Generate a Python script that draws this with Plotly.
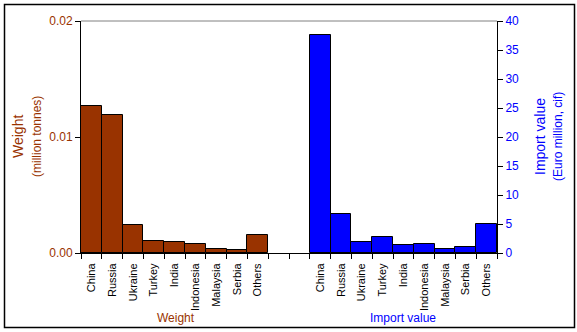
import plotly.graph_objects as go

countries = ["China", "Russia", "Ukraine", "Turkey", "India", "Indonesia", "Malaysia", "Serbia", "Others"]
weight = [0.01267, 0.01187, 0.00239, 0.00103, 0.00092, 0.00075, 0.00034, 0.00023, 0.00155]
import_value = [37.6, 6.67, 1.84, 2.76, 1.38, 1.5, 0.69, 1.03, 5.0]

BROWN = "#993300"
BLUE = "#0000FF"
FONT = "Liberation Sans, Arial, sans-serif"

W, H = 577, 332
L, R, T, B = 81, 497, 21, 253

n = len(countries)
gap = 2
x_w = list(range(n))
x_v = [i + n + gap for i in range(n)]
total = 2 * n + gap

def px(x):
    return (x - L) / (R - L)

def py(y):
    return (B - y) / (B - T)

fig = go.Figure()
fig.add_trace(go.Bar(x=x_w, y=weight, width=1, marker=dict(color=BROWN, line=dict(color="black", width=1)),
                     yaxis="y", xaxis="x", showlegend=False))
fig.add_trace(go.Bar(x=x_v, y=import_value, width=1, marker=dict(color=BLUE, line=dict(color="black", width=1)),
                     yaxis="y2", xaxis="x", showlegend=False))

fig.update_layout(
    width=W, height=H,
    margin=dict(l=L, r=W - R, t=T, b=H - B),
    paper_bgcolor="white", plot_bgcolor="white",
    bargap=0,
    font=dict(family=FONT, size=11, color="black"),
    xaxis=dict(range=[-0.5, total - 0.5], tickmode="array", tickvals=x_w + x_v, ticktext=countries + countries,
               tickangle=-90, ticks="", showgrid=False, zeroline=False, showline=True, linecolor="black",
               linewidth=1, tickfont=dict(size=11, color="black"), ticklabelstandoff=5, fixedrange=True),
    xaxis2=dict(range=[-0.5, total - 0.5], overlaying="x", tickmode="array",
                tickvals=[i - 0.5 for i in range(total + 1)], ticktext=[""] * (total + 1),
                ticks="outside", ticklen=5, tickcolor="black", showgrid=False, zeroline=False,
                showline=False, side="bottom", anchor="y"),
    yaxis=dict(range=[0, 0.02], dtick=0.01, tickformat=".2f", ticks="outside", ticklen=5, tickcolor="black",
               showgrid=False, zeroline=False, showline=True, linecolor="black", linewidth=1,
               tickfont=dict(size=12, color=BROWN)),
    yaxis2=dict(range=[0, 40], dtick=5, overlaying="y", side="right", ticks="outside", ticklen=5,
                tickcolor="black", showgrid=False, zeroline=False, showline=True, linecolor="black",
                linewidth=1, tickfont=dict(size=12, color=BLUE)),
)

# invisible trace to activate xaxis2
fig.add_trace(go.Scatter(x=[0], y=[0], xaxis="x2", yaxis="y", mode="markers",
                         marker=dict(opacity=0), showlegend=False, hoverinfo="skip"))

annotations = [
    dict(text="Weight", x=px(18), y=py(137), textangle=-90, font=dict(size=14, color=BROWN)),
    dict(text="(million tonnes)", x=px(37), y=py(137), textangle=-90, font=dict(size=12, color=BROWN)),
    dict(text="Import value", x=px(540), y=py(137), textangle=-90, font=dict(size=14, color=BLUE)),
    dict(text="(Euro million, cif)", x=px(558), y=py(137), textangle=-90, font=dict(size=12, color=BLUE)),
    dict(text="Weight", x=px(176), y=py(318), font=dict(size=12, color=BROWN)),
    dict(text="Import value", x=px(403), y=py(318), font=dict(size=12, color=BLUE)),
]
for a in annotations:
    a.update(xref="paper", yref="paper", showarrow=False, xanchor="center", yanchor="middle")
fig.update_layout(annotations=annotations)

fig.add_shape(type="line", xref="paper", yref="paper", x0=0, x1=1, y0=1, y1=1,
              line=dict(color="#808080", width=1))
fig.add_shape(type="rect", xref="paper", yref="paper", x0=px(4.5), x1=px(574.5), y0=py(4.5), y1=py(327.5),
              line=dict(color="black", width=1.5), fillcolor="rgba(0,0,0,0)", layer="below")

fig.write_html("out.html")
